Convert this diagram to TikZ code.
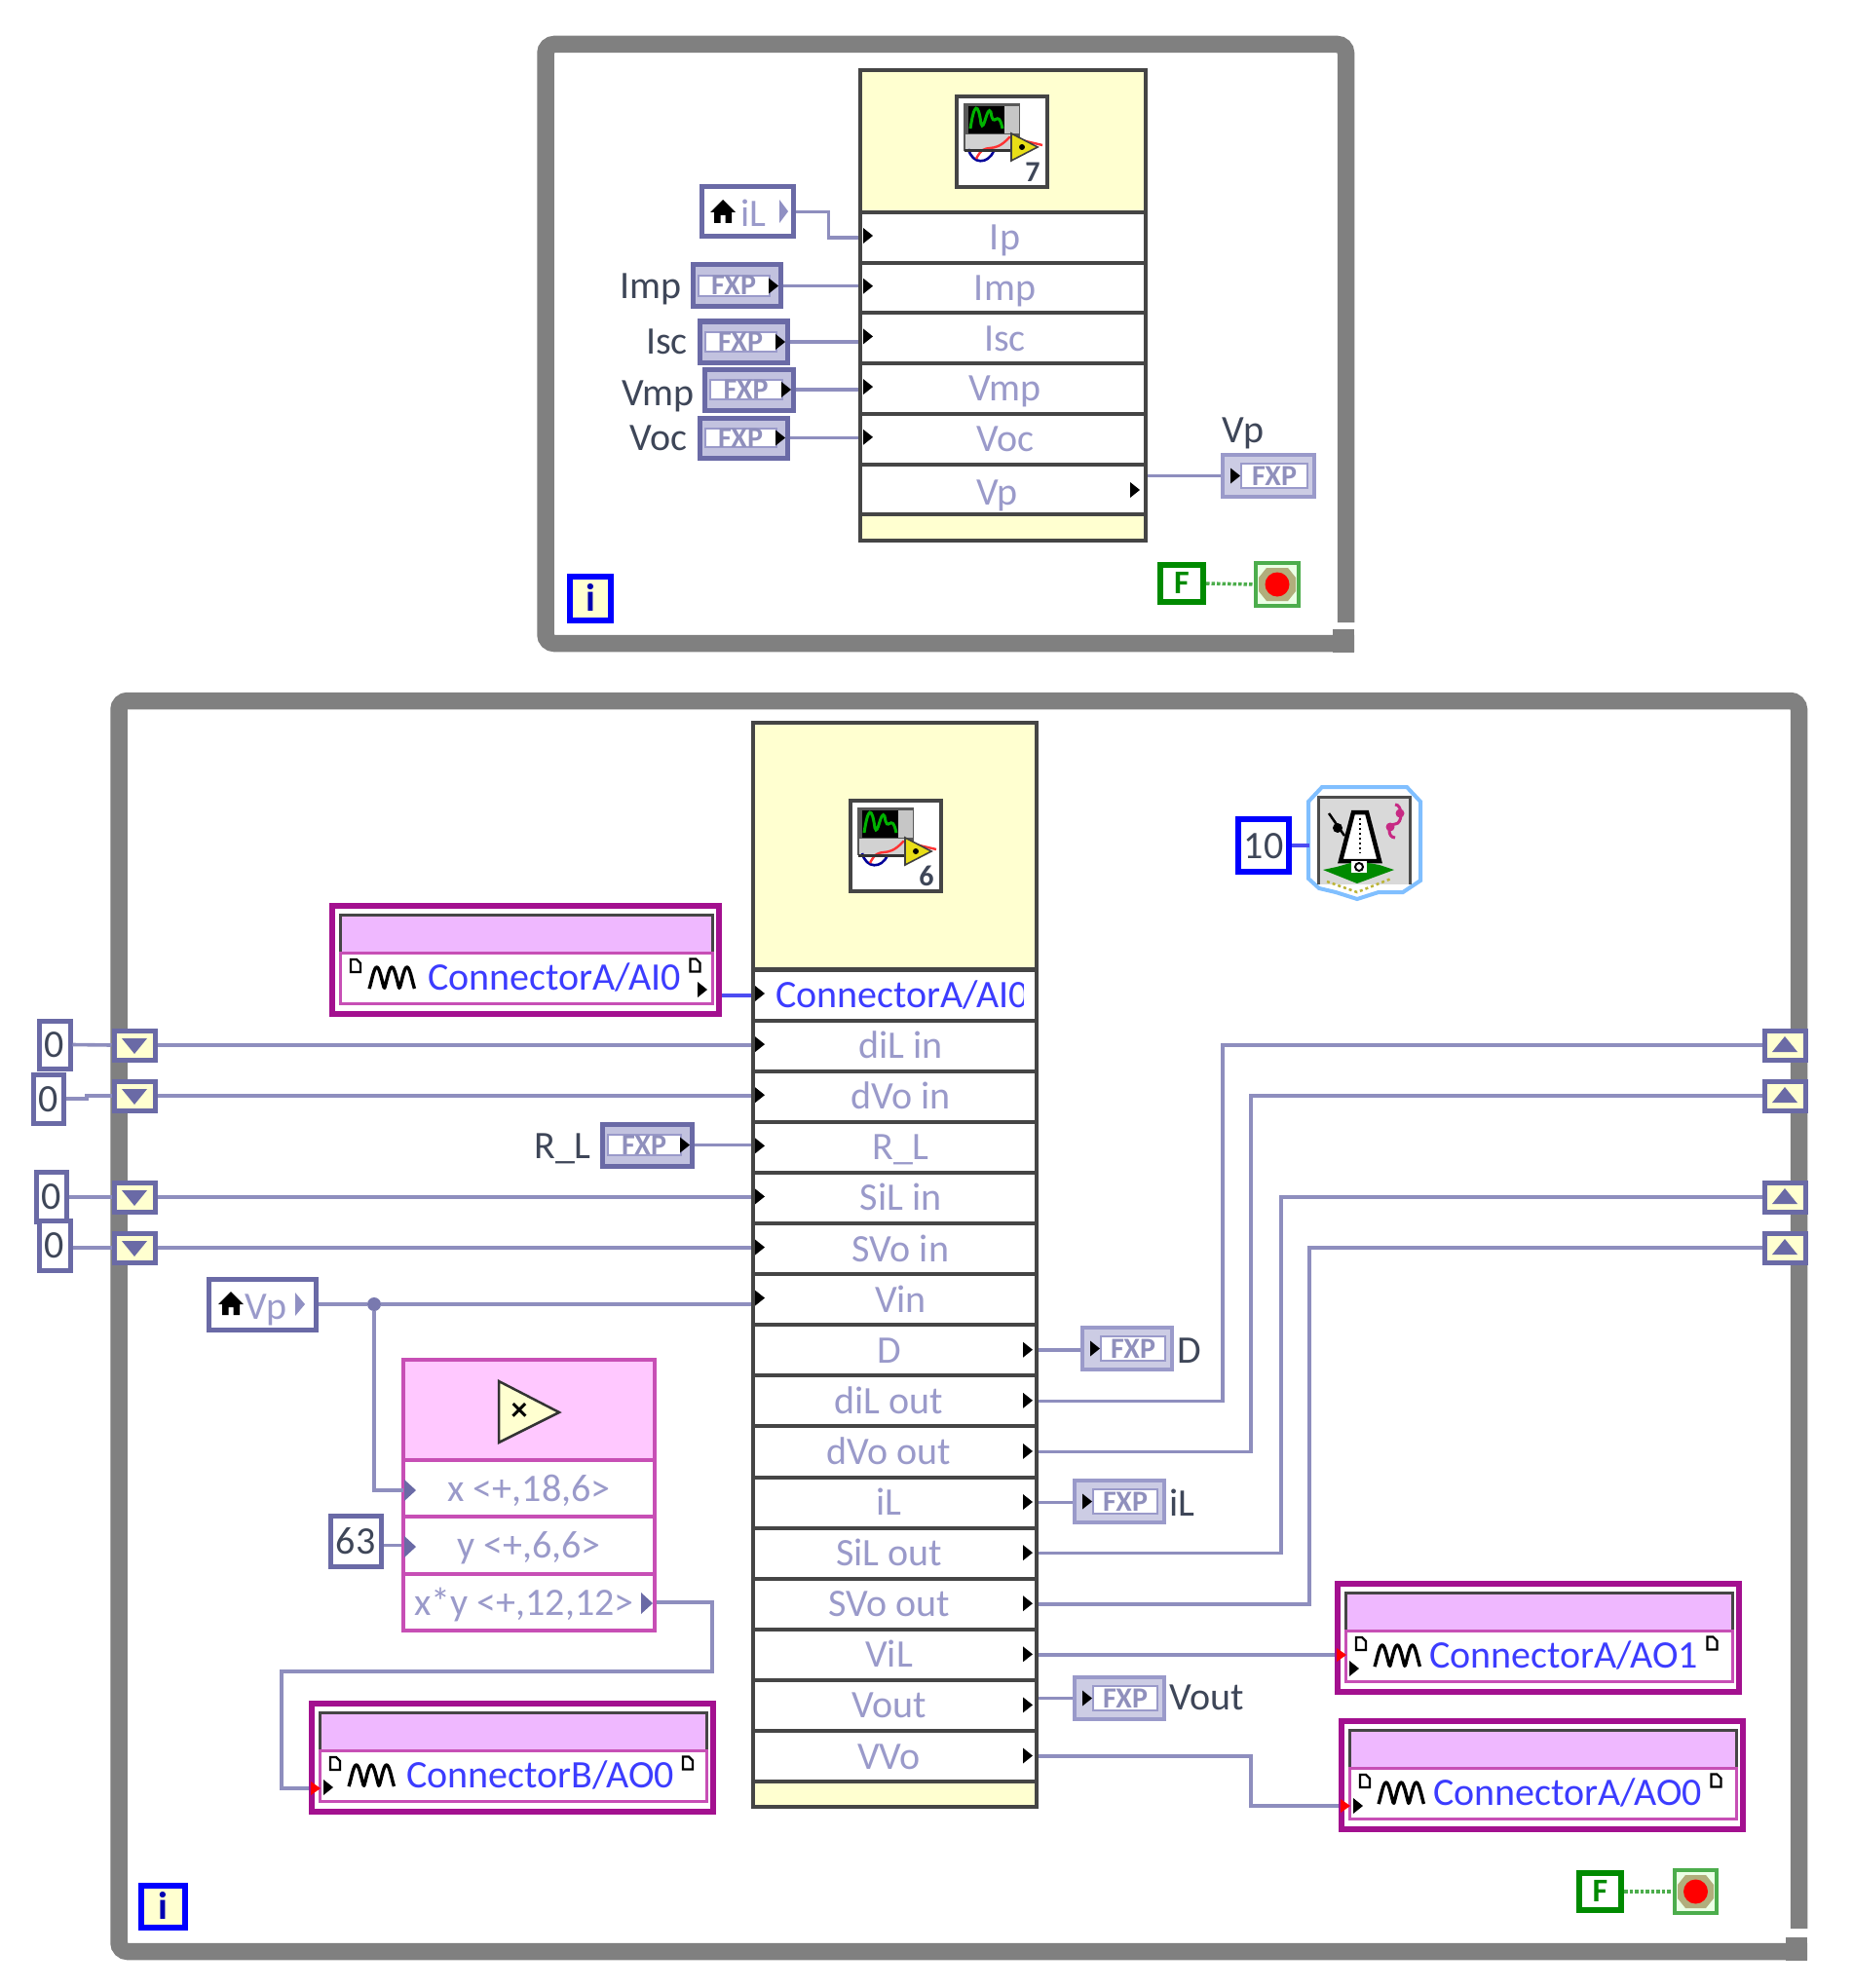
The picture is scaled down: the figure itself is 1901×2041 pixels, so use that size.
\documentclass[tikz,border=0pt]{standalone}
\usepackage{fontspec}
\setmainfont{Carlito}
\usetikzlibrary{calc}
\definecolor{lvframe}{HTML}{808080}
\definecolor{lvwire}{HTML}{8E8EBE}
\definecolor{lvedge}{HTML}{6A6AA6}
\definecolor{lvnode}{HTML}{454545}
\definecolor{lvyellow}{HTML}{FFFFD0}
\definecolor{lvlabel}{HTML}{9A9ACA}
\definecolor{lvdark}{HTML}{3E4658}
\definecolor{lvmag}{HTML}{A3108F}
\definecolor{lvpink}{HTML}{C74FB5}
\definecolor{lvhead}{HTML}{EFB8FF}
\definecolor{lvmult}{HTML}{FFC8FF}
\definecolor{lvblue}{HTML}{3C3CFF}
\definecolor{lvgreen}{HTML}{008A00}
\newcommand\lvf[1]{\fontsize{#1}{#1}\selectfont}
\tikzset{
  x=1pt,y=-1pt,
  base/.style={inner sep=0pt,text height=26pt,text depth=0pt,font=\lvf{40}},
  wire/.style={draw=lvwire,line width=3.6pt},
  bluewire/.style={draw=lvblue!80!lvwire,line width=4pt},
  frame/.style={draw=lvframe,line width=17.5pt,rounded corners=9pt},
  txt/.style={base,text=lvdark},
  row/.style={base,draw=lvnode,line width=4pt,fill=white,text=lvlabel},
  body/.style={base,draw=lvnode,line width=4pt,fill=lvyellow},
  const/.style={base,draw=lvedge,line width=5pt,fill=white,text=lvdark},
  tun/.style={draw=lvedge,line width=5pt,fill=lvyellow,inner sep=0pt},
  multbody/.style={draw=lvpink,line width=3.5pt,fill=lvmult,inner sep=0pt},
  multrow/.style={base,draw=lvpink,line width=3.5pt,fill=white,text=lvlabel},
  fxpbox/.style={draw=lvedge,line width=5pt,fill=lvlabel!60,inner sep=0pt},
  fxpind/.style={draw=lvlabel,line width=3.5pt,fill=lvlabel!50,inner sep=0pt},
  fxptxt/.style={font=\lvf{30}\bfseries,text=lvedge!75,inner sep=0pt,text height=19pt,text depth=0pt},
  iobox/.style={draw=lvmag,line width=6pt,fill=white,inner sep=0pt},
  iotxt/.style={base,text=lvblue},
  ibox/.style={base,draw=blue,line width=6pt,fill=lvyellow,font=\lvf{40}\bfseries,text=blue!70!black},
  fbox/.style={draw=lvgreen,line width=6pt,fill=white,inner sep=0pt,font=\lvf{34}\bfseries,text=lvgreen,text height=21pt,text depth=0pt},
  stopbox/.style={draw=lvgreen!70!white,line width=4pt,fill=lvyellow!60!green!20!white,inner sep=0pt},
  donewire/.style={draw=lvgreen!70!white,line width=3.5pt,dotted},
}
% [style]{name}{x1}{y1}{x2}{y2}{text}
\newcommand\bx[7][]{%
  \pgfmathsetmacro\lvW{#5-#3-4}\pgfmathsetmacro\lvH{#6-#4-4}%
  \node[minimum width=\lvW pt,minimum height=\lvH pt,#1] (#2) at ({(#3+#5)/2},{(#4+#6)/2}) {#7};}
\newcommand\term[2]{\fill[black] ({#1-5},{#2-8}) -- ({#1+5},{#2}) -- ({#1-5},{#2+8}) -- cycle;}
\newcommand\bigterm[2]{\fill[lvedge] ({#1-5},{#2-11}) -- ({#1+7},{#2}) -- ({#1-5},{#2+11}) -- cycle;}
\newcommand\fxpc[5]{%
  \bx[fxpbox]{#1}{#2}{#3}{#4}{#5}{}
  \draw[lvlabel,line width=2pt,fill=white] (#2+8,#3+13) rectangle (#4-13,#5-13);
  \node[fxptxt] (#1-t) at ({(#2+#4)/2-3},{(#3+#5)/2}) {FXP};
  \term{#4-9}{(#3+#5)/2}}
\newcommand\fxpi[5]{%
  \bx[fxpind]{#1}{#2}{#3}{#4}{#5}{}
  \draw[lvlabel,line width=2pt,fill=white] (#2+21,#3+11) rectangle (#4-9,#5-11);
  \node[fxptxt] (#1-t) at ({(#2+#4)/2+6},{(#3+#5)/2}) {FXP};
  \term{#2+15}{(#3+#5)/2}}
\newcommand\tunnel[6]{% name x1 y1 x2 y2 dir(+1 down,-1 up)
  \bx[tun]{#1}{#2}{#3}{#4}{#5}{}
  \fill[lvedge] ({(#2+#4)/2-13},{(#3+#5)/2-7*#6}) -- ({(#2+#4)/2+13},{(#3+#5)/2-7*#6}) -- ({(#2+#4)/2},{(#3+#5)/2+9*#6}) -- cycle;}
\newcommand\docicon[2]{%
  \draw[black,line width=2.2pt,fill=white] ({#1-5},{#2-7}) -- ({#1+1},{#2-7}) -- ({#1+5},{#2-3}) -- ({#1+5},{#2+6}) -- ({#1-5},{#2+6}) -- cycle;}
\newcommand\waveicon[2]{%
  \draw[black,line width=3.4pt,line join=round] plot[domain=0:3,samples=60] ({#1-23+\x*15.5},{#2+11-22*(0.5-0.5*cos(\x*360))^0.6});}
% name x1 y1 x2 text textleftoffset
\newcommand\ionode[6]{%
  \pgfmathsetmacro\lvYb{#3+115}%
  \bx[iobox]{#1}{#2}{#3}{#4}{\lvYb}{}
  \draw[lvpink,line width=3pt,fill=white] (#2+10,#3+50) rectangle (#4-9,#3+102);
  \fill[lvhead] (#2+10,#3+11) rectangle (#4-9,#3+50);
  \draw[lvnode,line width=3pt] (#2+10,#3+49) -- (#2+10,#3+11) -- (#4-9,#3+11) -- (#4-9,#3+49);
  \draw[lvpink,line width=3pt] (#2+10,#3+50) -- (#4-9,#3+50);
  \node[iotxt,anchor=west] (#1-t) at (#2+#6,#3+75.5) {#5};
  \docicon{#2+26}{#3+64}
  \waveicon{#2+63}{#3+76}
  \path (#1-t.east) ++(14,-12) coordinate (#1-d);
  \draw[black,line width=2.2pt,fill=white] (#1-d) ++(-5,-7) -- ++(6,0) -- ++(4,4) -- ++(0,9) -- ++(-10,0) -- cycle;}
\newcommand\redmark[2]{\fill[red] ({#1-3},{#2-7}) -- ({#1+7},{#2}) -- ({#1-3},{#2+7}) -- cycle;}
\newcommand\housemark[2]{\fill[black] ({#1},{#2-12}) -- ({#1+13},{#2+1}) -- ({#1+9},{#2+1}) -- ({#1+9},{#2+12}) -- ({#1+2.5},{#2+12}) -- ({#1+2.5},{#2+4}) -- ({#1-2.5},{#2+4}) -- ({#1-2.5},{#2+12}) -- ({#1-9},{#2+12}) -- ({#1-9},{#2+1}) -- ({#1-13},{#2+1}) -- cycle;}
\newcommand\viicon[4]{% name x y number
  \begin{scope}[shift={(#2,#3)}]
    \bx[draw=lvnode,line width=3.5pt,fill=white,inner sep=0pt]{#1}{0}{0}{97}{97}{}
    \fill[gray!70!black] (9,9) rectangle (67,58);
    \fill[gray!45] (50,12) rectangle (66,40);
    \fill[black] (14,12) rectangle (51,40);
    \draw[green!70!black,line width=3pt] (16,35) .. controls (20,8) and (24,8) .. (27,30) .. controls (30,40) and (33,10) .. (37,18) .. controls (40,38) and (44,12) .. (49,35);
    \fill[gray!35] (11,41) rectangle (60,58);
    \draw[blue!60!black,line width=2.6pt] (14,56) .. controls (18,72) and (34,72) .. (40,58);
    \draw[red!80!white,line width=2.4pt] (22,66) .. controls (32,46) and (38,64) .. (56,44) -- (60,45) -- (90,52);
    \draw[black!80,line width=3pt] (10,58) -- (60,58);
    \draw[black!75,line width=1.6pt,fill=yellow!90!black] (58,40) -- (85,54) -- (58,68) -- cycle;
    \fill[black] (69,54) circle (3);
    \node[txt,font=\lvf{30}\bfseries,text height=19pt] (#1-n) at (80,80) {#4};
  \end{scope}}
\begin{document}
\begin{tikzpicture}
\useasboundingbox[fill=white] (0,0) rectangle (1901,2041);
% ---------- frames
\draw[frame] (1381.5,639) -- (1381.5,45.5) -- (560,45.5) -- (560,660.5) -- (1390,660.5);
\fill[lvframe] (1368,646) rectangle (1390,670);
\draw[frame] (1846.5,1980) -- (1846.5,719.5) -- (122,719.5) -- (122,2003.5) -- (1855,2003.5);
\fill[lvframe] (1833,1989) rectangle (1855,2013);
% ---------- upper loop
\bx[body]{ptop}{881}{70}{1178}{220}{}
\bx[body]{pbot}{881}{525}{1178}{557}{}
\foreach \i/\t in {1/\hspace*{4pt}Ip,2/\hspace*{4pt}Imp,3/\hspace*{4pt}Isc,4/\hspace*{4pt}Vmp,5/\hspace*{4pt}Voc,6/\raisebox{-3pt}{Vp}\hspace*{12pt}}{
  \pgfmathsetmacro\ya{218+51.7*(\i-1)-2}\pgfmathsetmacro\yb{\ya+51.7+4}
  \bx[row]{p\i}{881}{\ya}{1178}{\yb}{\t}
}
\foreach \i in {1,...,5}{\pgfmathsetmacro\ya{244+51.7*(\i-1)-2}\term{891}{\ya}}
\term{1165}{503}
\viicon{ivi}{980}{97}{7}
\bx[const,draw=lvedge]{iltun}{718}{190}{816}{245}{}
\housemark{742}{217}
\node[base,text=lvlabel] (iltxt) at (773,220) {iL};
\fill[lvlabel!80!lvedge] (800,205) -- (809,217) -- (800,229) -- cycle;
\fxpc{fimp}{709}{270}{803}{317}
\fxpc{fisc}{716}{328}{810}{374}
\fxpc{fvmp}{721}{377}{816}{423}
\fxpc{fvoc}{716}{427}{810}{472}
\fxpi{fvp}{1253}{465}{1351}{512}
\node[txt,anchor=east] (limp) at (700,294) {Imp};
\node[txt,anchor=east] (lisc) at (706,350) {Isc};
\node[txt,anchor=east] (lvmp) at (713,403) {Vmp};
\node[txt,anchor=east] (lvoc) at (706,449) {Voc};
\node[txt] (lvp) at (1276,441) {Vp};
\draw[wire] (iltun.east) -- ++(34,0) |- (p1.west);
\draw[wire] (fimp.east) -- (fimp.east -| p2.west);
\draw[wire] (fisc.east) -- (fisc.east -| p3.west);
\draw[wire] (fvmp.east) -- (fvmp.east -| p4.west);
\draw[wire] (fvoc.east) -- (fvoc.east -| p5.west);
\draw[wire] (fvp.west -| p6.east) -- (fvp.west);
\bx[ibox]{itop}{583}{590}{629}{639}{i}
\bx[fbox]{ftop}{1189}{578}{1237}{620}{F}
\bx[stopbox]{stop1}{1287}{576}{1335}{624}{}
\fill[gray!70!yellow] (1300,583) -- (1322,583) -- (1330,593) -- (1330,607) -- (1322,617) -- (1300,617) -- (1292,607) -- (1292,593) -- cycle;
\fill[red] (1311,600) circle (12.5);
\draw[donewire] (ftop.east) -- (stop1.west);
% ---------- lower loop
\bx[body]{mtop}{771}{740}{1066}{997}{}
\bx[body]{mbot}{771}{1825}{1066}{1857}{}
\foreach \i/\t in {1/{},2/\hspace*{12pt}diL in,3/\hspace*{12pt}dVo in,4/\hspace*{12pt}R\_L,5/\hspace*{12pt}SiL in,6/\hspace*{12pt}SVo in,7/\hspace*{12pt}Vin,
  8/D\hspace*{12pt},9/diL out\hspace*{12pt},10/dVo out\hspace*{12pt},11/iL\hspace*{12pt},12/SiL out\hspace*{12pt},13/SVo out\hspace*{12pt},14/ViL\hspace*{12pt},15/Vout\hspace*{12pt},16/VVo\hspace*{12pt}}{
  \pgfmathsetmacro\ya{995.5+52.1*(\i-1)-2}\pgfmathsetmacro\yb{\ya+52.1+4}
  \bx[row]{m\i}{771}{\ya}{1066}{\yb}{\t}
}
\begin{scope}
  \clip (790,999) rectangle (1050,1045);
  \node[iotxt,anchor=west] (maitxt) at (796,1021) {ConnectorA/AI0};
\end{scope}
\foreach \i in {1,...,7}{\pgfmathsetmacro\ya{1021+52.1*(\i-1)-1}\term{780}{\ya}}
\foreach \i in {8,...,16}{\pgfmathsetmacro\ya{1021+52.1*(\i-1)}\term{1055}{\ya}}
\viicon{mvi}{871}{820}{6}
% timer
\bx[const,draw=blue,line width=6pt,text=lvdark]{ten}{1269}{839}{1325}{897}{10}
\bx[draw=none,inner sep=0pt]{timer}{1342}{806}{1459}{924}{}
\draw[blue!50!cyan!50!white,line width=4pt,fill=white] (1357,808) -- (1444,808) -- (1458,823) -- (1458,904) -- (1440,916) -- (1415,916) -- (1393,923) -- (1371,916) -- (1354,912) -- (1343,902) -- (1343,823) -- cycle;
\fill[gray!30] (1353,818) rectangle (1447,908);
\draw[black!70,line width=3pt] (1353,908) -- (1353,818) -- (1447,818) -- (1447,908);
\draw[black,line width=4.5pt,fill=white] (1389,834) -- (1403,834) -- (1416,884) -- (1376,884) -- cycle;
\draw[black,line width=2pt,dash pattern=on 2pt off 3pt] (1396,840) -- (1396,876);
\draw[black,line width=2.5pt] (1364,835) -- (1380,858);
\fill[black] (1373,850) circle (5);
\fill[lvgreen] (1372,890) -- (1393,884) -- (1416,888) -- (1431,893) -- (1393,907) -- (1358,893) -- cycle;
\fill[white] (1387,884) rectangle (1403,896);
\draw[black,line width=2pt] (1395,890) circle (4);
\draw[yellow!70!black,line width=2.5pt,dash pattern=on 3pt off 3pt] (1362,905) -- (1393,916) -- (1428,902);
\draw[magenta!80!black,line width=3pt] (1432,826) .. controls (1440,826) and (1440,846) .. (1432,846) .. controls (1424,846) and (1424,860) .. (1432,860);
\fill[magenta!80!black] (1437,835) circle (4.5) (1427,849) circle (4.5);
\draw[bluewire] (ten.east) -- (ten.east -| timer.west);
% AI0 etc
\ionode{ai}{339}{928}{740}{ConnectorA/AI0}{100}
\term{721}{1016}
\ionode{aoa}{1371}{1624}{1787}{ConnectorA/AO1}{96}
\term{1390}{1713}
\ionode{aob}{1375}{1765}{1791}{ConnectorA/AO0}{96}
\term{1394}{1854}
\ionode{bao}{318}{1747}{734}{ConnectorB/AO0}{99}
\term{337}{1835}
\draw[bluewire] (ai.east |- m1.west) -- (m1.west);
% left constants and tunnels
\bx[const]{c1}{38}{1046}{74}{1099}{0}
\bx[const]{c2}{32}{1101}{67}{1155}{0}
\bx[const]{c3}{35}{1201}{70}{1256}{0}
\bx[const]{c4}{38}{1251}{74}{1306}{0}
\tunnel{tl1}{115}{1056}{161}{1090}{1}
\tunnel{tl2}{115}{1108}{161}{1142}{1}
\tunnel{tl3}{115}{1212}{161}{1246}{1}
\tunnel{tl4}{115}{1264}{161}{1298}{1}
\tunnel{tr1}{1809}{1056}{1855}{1090}{-1}
\tunnel{tr2}{1809}{1108}{1855}{1142}{-1}
\tunnel{tr3}{1809}{1212}{1855}{1246}{-1}
\tunnel{tr4}{1809}{1264}{1855}{1298}{-1}
\coordinate (jog) at (89,1125);
\draw[wire] (c1.east) -- (tl1.west);
\draw[wire] (c2.east) -| (jog) -- (tl2.west);
\draw[wire] (c3.east |- tl3.west) -- (tl3.west);
\draw[wire] (c4.east |- tl4.west) -- (tl4.west);
\draw[wire] (tl1.east) -- (tl1.east -| m2.west);
\draw[wire] (tl2.east) -- (tl2.east -| m3.west);
\draw[wire] (tl3.east) -- (tl3.east -| m5.west);
\draw[wire] (tl4.east) -- (tl4.east -| m6.west);
% R_L
\fxpc{frl}{616}{1152}{712}{1199}
\node[txt,anchor=east] (lrl) at (607,1176) {R\_L};
\draw[wire] (frl.east) -- (frl.east -| m4.west);
% Vp local
\bx[const]{vptun}{212}{1311}{326}{1367}{}
\housemark{237}{1338}
\node[base,text=lvlabel] (vptxt) at (273,1341) {Vp};
\fill[lvlabel!80!lvedge] (303,1327) -- (313,1339) -- (303,1351) -- cycle;
\node[circle,fill=lvedge!90,inner sep=0pt,minimum size=14pt] (junc) at (384,1339) {};
\draw[wire] (vptun.east) -- (junc);
\draw[wire] (junc) -- (junc -| m7.west);
% multiply node
\bx[multbody]{mult}{412}{1394}{674}{1501}{}
\draw[black!80,line width=2.5pt,fill=lvyellow] (512,1418) -- (574,1450) -- (512,1481) -- cycle;
\node[font=\lvf{34}\bfseries,text=black,inner sep=0pt] (multx) at (533,1449) {×};
\bx[multrow]{xa}{412}{1497}{674}{1559}{x <+,18,6>}
\bx[multrow]{xb}{412}{1555}{674}{1618}{y <+,6,6>}
\bx[multrow]{xc}{412}{1614}{674}{1676}{x*y <+,12,12>\hspace*{10pt}}
\bigterm{420}{1530}\bigterm{420}{1588}\bigterm{663}{1646}
\coordinate (xin) at (414,1530);
\draw[wire] (junc) |- (xin);
\bx[const]{sixty}{337}{1554}{393}{1610}{63}
\draw[wire] (sixty.east |- xb.west) -- (xb.west);
\coordinate (nb1) at (731,1716);
\coordinate (nb2) at (289,1716);
\coordinate (nb3) at (289,1836);
\draw[wire] (xc.east) -| (nb1) -- (nb2) -- (nb3) -- (bao.west |- nb3);
% right side indicators
\fxpi{fd}{1109}{1361}{1205}{1408}
\fxpi{fil}{1101}{1518}{1197}{1565}
\fxpi{fvout}{1101}{1720}{1197}{1767}
\node[txt,anchor=west] (ld) at (1208,1386) {D};
\node[txt,anchor=west] (lil) at (1200,1543) {iL};
\node[txt,anchor=west] (lvout) at (1200,1742) {Vout};
\draw[wire] (m8.east) -- (m8.east -| fd.west);
\draw[wire] (m11.east) -- (m11.east -| fil.west);
\draw[wire] (fvout.west -| m15.east) -- (fvout.west);
\coordinate (va) at (1255,1073);
\coordinate (vb) at (1284,1125);
\coordinate (vc) at (1315,1229);
\coordinate (vd) at (1344,1281);
\coordinate (ve) at (1284,1854);
\draw[wire] (m9.east) -| (va) -- (va -| tr1.west);
\draw[wire] (m10.east) -| (vb) -- (vb -| tr2.west);
\draw[wire] (m12.east) -| (vc) -- (vc -| tr3.west);
\draw[wire] (m13.east) -| (vd) -- (vd -| tr4.west);
\draw[wire] (m14.east) -- (m14.east -| aoa.west);
\draw[wire] (m16.east) -| (ve) -- (ve -| aob.west);
\redmark{1375}{1699}\redmark{1379}{1854}\redmark{322}{1836}
% lower corner
\bx[ibox]{ibot}{143}{1934}{192}{1981}{i}
\bx[fbox]{fbot}{1619}{1921}{1666}{1963}{F}
\bx[stopbox]{stop2}{1717}{1918}{1764}{1966}{}
\fill[gray!70!yellow] (1730,1925) -- (1751,1925) -- (1759,1935) -- (1759,1949) -- (1751,1959) -- (1730,1959) -- (1722,1949) -- (1722,1935) -- cycle;
\fill[red] (1740.5,1942) circle (12.5);
\draw[donewire] (fbot.east) -- (stop2.west);
\end{tikzpicture}
\end{document}
